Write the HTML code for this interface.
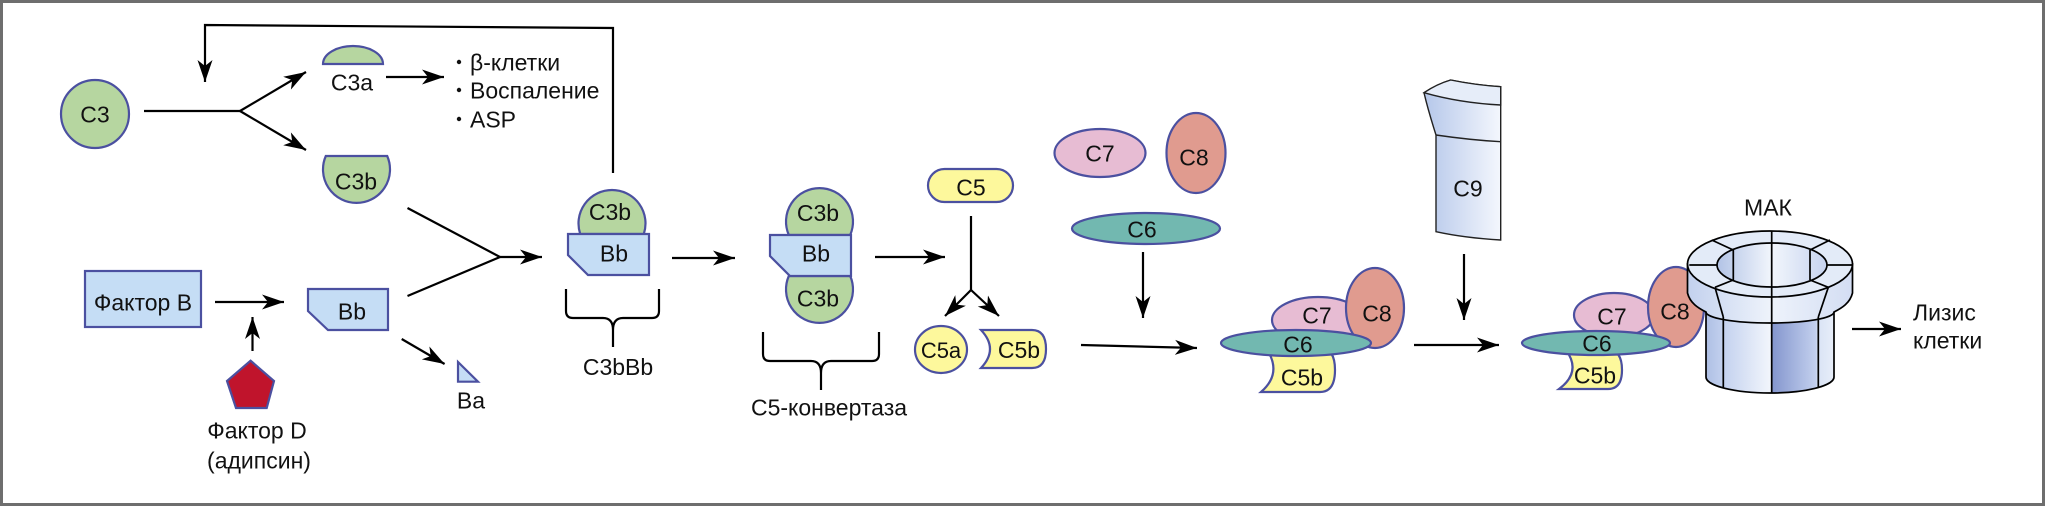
<!DOCTYPE html>
<html>
<head>
<meta charset="utf-8">
<style>
  html,body{margin:0;padding:0;background:#fff;}
  svg{display:block;}
  text{font-family:"Liberation Sans","DejaVu Sans",Arial,sans-serif;font-size:23px;fill:#111;}
  .c{text-anchor:middle;}
  .p{stroke:#4b50a0;stroke-width:2.2;}
  .ln{stroke:#000;stroke-width:2.2;fill:none;}
  .bk{stroke:#000;stroke-width:1.7;}
</style>
</head>
<body>
<svg width="2045" height="506" viewBox="0 0 2045 506" xmlns="http://www.w3.org/2000/svg">
<defs>
  <marker id="ah" markerUnits="userSpaceOnUse" markerWidth="26" markerHeight="20" refX="22" refY="9" orient="auto">
    <path d="M0,1.5 L22,9 L0,16.5 L6,9 Z" fill="#000"/>
  </marker>
  <linearGradient id="c9g" x1="0" x2="1" y1="0" y2="0">
    <stop offset="0" stop-color="#b5c7ea"/>
    <stop offset="1" stop-color="#f4f7fd"/>
  </linearGradient>
  <linearGradient id="cyl" x1="1706" x2="1834" y1="0" y2="0" gradientUnits="userSpaceOnUse">
    <stop offset="0" stop-color="#aebfe4"/>
    <stop offset="0.14" stop-color="#c4d2ef"/>
    <stop offset="0.51" stop-color="#f3f6fc"/>
    <stop offset="0.51" stop-color="#8395cd"/>
    <stop offset="0.86" stop-color="#c3d0ee"/>
    <stop offset="0.87" stop-color="#d9e3f5"/>
    <stop offset="1" stop-color="#e8eef9"/>
  </linearGradient>
  <linearGradient id="ring" x1="1688" x2="1853" y1="0" y2="0" gradientUnits="userSpaceOnUse">
    <stop offset="0" stop-color="#c3d1ee"/>
    <stop offset="0.5" stop-color="#eef3fb"/>
    <stop offset="1" stop-color="#d3ddf3"/>
  </linearGradient>
  <linearGradient id="hole" x1="1717" x2="1827" y1="0" y2="0" gradientUnits="userSpaceOnUse">
    <stop offset="0" stop-color="#b2c3e6"/>
    <stop offset="0.5" stop-color="#f2f6fc"/>
    <stop offset="1" stop-color="#c6d3ef"/>
  </linearGradient>
</defs>

<!-- frame -->
<rect x="1.5" y="1.5" width="2042" height="503" fill="#fff" stroke="#6e6e6e" stroke-width="3"/>

<!-- feedback loop -->
<polyline class="ln" points="613,173 613,28 205,25 205,82" marker-end="url(#ah)"/>

<!-- C3 -->
<circle class="p" cx="95" cy="114" r="34" fill="#b6d6a0"/>
<text class="c" x="95" y="122.5">C3</text>
<line class="ln" x1="144" y1="111" x2="240" y2="111"/>
<line class="ln" x1="240" y1="111" x2="306" y2="72" marker-end="url(#ah)"/>
<line class="ln" x1="240" y1="111" x2="306" y2="150" marker-end="url(#ah)"/>

<!-- C3a -->
<path class="p" d="M323,64 A30,18 0 0 1 383,64 Z" fill="#b6d6a0"/>
<text class="c" x="352" y="90.5">C3a</text>
<line class="ln" x1="386" y1="77" x2="444" y2="77" marker-end="url(#ah)"/>

<!-- list -->
<circle cx="459" cy="62" r="2.2" fill="#111"/>
<circle cx="459" cy="90" r="2.2" fill="#111"/>
<circle cx="459" cy="119" r="2.2" fill="#111"/>
<text x="470" y="70.5">β-клетки</text>
<text x="470" y="98.5">Воспаление</text>
<text x="470" y="127.5">ASP</text>

<!-- C3b -->
<path class="p" d="M325.8,156 L387.2,156 A33.5,33.5 0 1 1 325.8,156 Z" fill="#b6d6a0"/>
<text class="c" x="356" y="189.5">C3b</text>

<!-- converging -->
<polyline class="ln" points="407.5,208 500,257 407.5,296"/>
<line class="ln" x1="500" y1="257" x2="542" y2="257" marker-end="url(#ah)"/>

<!-- Factor B -->
<rect class="p" x="85" y="271" width="116" height="56" fill="#c5ddf5"/>
<text class="c" x="143" y="310.5">Фактор B</text>
<line class="ln" x1="215" y1="302" x2="284" y2="302" marker-end="url(#ah)"/>
<line class="ln" x1="252.5" y1="351" x2="252.5" y2="317" marker-end="url(#ah)"/>

<!-- Factor D -->
<polygon class="p" points="250.6,360.7 274,381 266.7,408 236,408 227,381" fill="#c0142c"/>
<text class="c" x="257" y="438.5">Фактор D</text>
<text class="c" x="259" y="468.5">(адипсин)</text>

<!-- Bb -->
<path class="p" d="M308,289 L388,289 L388,330 L328,330 L308,311 Z" fill="#c5ddf5"/>
<text class="c" x="352" y="319.5">Bb</text>
<line class="ln" x1="401.7" y1="339" x2="444.6" y2="364" marker-end="url(#ah)"/>
<polygon class="p" points="458,362 458,381.7 478,381.7" fill="#c5ddf5" stroke-width="1.8"/>
<text class="c" x="471" y="408.5">Ba</text>

<!-- C3bBb -->
<path class="p" d="M580.2,234 A33.5,33.5 0 1 1 643.8,234 Z" fill="#b6d6a0"/>
<path class="p" d="M568,234 L649,234 L649,275 L588,275 L568,255 Z" fill="#c5ddf5"/>
<text class="c" x="610" y="220">C3b</text>
<text class="c" x="614" y="261.5">Bb</text>
<path class="ln" d="M566,289 L566,311 Q566,318 573,318 L603,318 Q613,318 613,330 L613,347 M613,330 Q613,318 623,318 L652,318 Q659,318 659,311 L659,289"/>
<text class="c" x="618" y="375">C3bBb</text>

<line class="ln" x1="672" y1="258" x2="735" y2="258" marker-end="url(#ah)"/>

<!-- C5 convertase -->
<path class="p" d="M788.8,235 A33.5,33.5 0 1 1 850.2,235 Z" fill="#b6d6a0"/>
<path class="p" d="M788.8,276 L850.2,276 A33.5,33.5 0 1 1 788.8,276 Z" fill="#b6d6a0"/>
<path class="p" d="M770,235 L851,235 L851,276 L790,276 L770,256 Z" fill="#c5ddf5"/>
<text class="c" x="818" y="221">C3b</text>
<text class="c" x="816" y="261.5">Bb</text>
<text class="c" x="818" y="306.5">C3b</text>
<path class="ln" d="M763,332 L763,354 Q763,361 770,361 L811,361 Q821,361 821,373 L821,390 M821,373 Q821,361 831,361 L872,361 Q879,361 879,354 L879,332"/>
<text class="c" x="829" y="415.5">C5-конвертаза</text>

<line class="ln" x1="875" y1="257" x2="945" y2="257" marker-end="url(#ah)"/>

<!-- C5 -->
<rect class="p" x="928" y="169" width="85" height="33" rx="16.5" fill="#fdf89c"/>
<text class="c" x="971" y="195.5">C5</text>
<line class="ln" x1="971" y1="216" x2="971" y2="290"/>
<line class="ln" x1="971" y1="290" x2="945" y2="316" marker-end="url(#ah)"/>
<line class="ln" x1="971" y1="290" x2="999" y2="316" marker-end="url(#ah)"/>
<ellipse class="p" cx="941" cy="349.5" rx="26" ry="23.5" fill="#fdf89c"/>
<text class="c" x="941" y="358" style="font-size:22px">C5a</text>
<path class="p" d="M981,330 L1032,330 Q1046,330 1046,349 Q1046,368 1032,368 L981,368 Q999,349 981,330 Z" fill="#fdf89c"/>
<text class="c" x="1019" y="358">C5b</text>

<!-- C7 C8 C6 free -->
<ellipse class="p" cx="1100" cy="153" rx="45.5" ry="24" fill="#e7bcd3"/>
<text class="c" x="1100" y="161.5">C7</text>
<ellipse class="p" cx="1196" cy="153" rx="29.5" ry="40" fill="#e09b8f"/>
<text class="c" x="1194" y="165.5">C8</text>
<ellipse class="p" cx="1146" cy="228.5" rx="74" ry="15.5" fill="#72b8b0"/>
<text class="c" x="1142" y="237.5">C6</text>
<line class="ln" x1="1143" y1="252" x2="1143" y2="318" marker-end="url(#ah)"/>
<line class="ln" x1="1081" y1="345" x2="1197" y2="348" marker-end="url(#ah)"/>

<!-- complex 1 -->
<path class="p" d="M1266,348 L1320,348 Q1335,348 1335,370 Q1335,392 1320,392 L1261,392 Q1283,373 1266,348 Z" fill="#fdf89c"/>
<ellipse class="p" cx="1318" cy="320" rx="46" ry="23" fill="#e7bcd3"/>
<ellipse class="p" cx="1375" cy="308" rx="29" ry="40" fill="#e09b8f"/>
<ellipse class="p" cx="1296" cy="343" rx="75" ry="13" fill="#72b8b0"/>
<text class="c" x="1317" y="323.5">C7</text>
<text class="c" x="1377" y="321.5">C8</text>
<text class="c" x="1298" y="352.5">C6</text>
<text class="c" x="1302" y="385.5">C5b</text>

<!-- C9 -->
<path d="M1424,92.7 Q1437,84 1450.7,80 Q1475,85 1500.7,86.7 L1500.7,240 Q1465,238 1436,231.7 L1436,135 Q1428,110 1424,92.7 Z" fill="url(#c9g)" stroke="#222" stroke-width="1.4"/>
<path d="M1424,92.7 Q1437,84 1450.7,80 Q1475,85 1500.7,86.7 L1500.7,105 Q1460,103 1424,92.7 Z" fill="#e6edf9" stroke="#222" stroke-width="1.4"/>
<path d="M1436,135 Q1470,140 1500.7,141.7" fill="none" stroke="#222" stroke-width="1.4"/>
<text class="c" x="1468" y="196.5">C9</text>
<line class="ln" x1="1464" y1="254" x2="1464" y2="320" marker-end="url(#ah)"/>
<line class="ln" x1="1414" y1="345" x2="1499" y2="345" marker-end="url(#ah)"/>

<!-- complex 2 -->
<path class="p" d="M1566,350 L1608,350 Q1622,350 1622,370 Q1622,389 1608,389 L1559,389 Q1582,372 1566,350 Z" fill="#fdf89c"/>
<ellipse class="p" cx="1614" cy="315" rx="40" ry="22" fill="#e7bcd3"/>
<ellipse class="p" cx="1676" cy="307" rx="28" ry="40" fill="#e09b8f"/>
<ellipse class="p" cx="1596" cy="343" rx="74" ry="12" fill="#72b8b0"/>
<text class="c" x="1612" y="324.5">C7</text>
<text class="c" x="1675" y="319.5">C8</text>
<text class="c" x="1597" y="351.5">C6</text>
<text class="c" x="1595" y="383.5">C5b</text>

<!-- MAK -->
<path class="bk" d="M1706,300 L1706,377 A64,16 0 0 0 1834,377 L1834,300 Z" fill="url(#cyl)"/>
<path class="bk" d="M1687.5,264 L1687.5,293 C1690,303 1698,308 1706,312 A64,11 0 0 0 1834,312 C1842,308 1850,303 1852.5,293 L1852.5,264 Z" fill="url(#ring)"/>
<ellipse class="bk" cx="1770" cy="264" rx="82.5" ry="33" fill="#e3ebf8"/>
<ellipse class="bk" cx="1772" cy="265" rx="55" ry="22" fill="url(#hole)"/>
<g class="bk" fill="none">
  <line x1="1771.7" y1="231" x2="1771.7" y2="393"/>
  <line x1="1711.7" y1="240" x2="1733.3" y2="250"/>
  <line x1="1689.3" y1="265" x2="1717.3" y2="265"/>
  <line x1="1715" y1="287.3" x2="1733.3" y2="280"/>
  <line x1="1810" y1="250" x2="1830" y2="240"/>
  <line x1="1826.7" y1="265" x2="1852.7" y2="265"/>
  <line x1="1810" y1="280" x2="1828.3" y2="287.3"/>
  <line x1="1733.3" y1="250" x2="1733.3" y2="280"/>
  <line x1="1810" y1="250" x2="1810" y2="280"/>
  <line x1="1715" y1="287.3" x2="1723.3" y2="317"/>
  <line x1="1828.3" y1="287.3" x2="1818.3" y2="317"/>
  <line x1="1723.3" y1="317" x2="1723.3" y2="388"/>
  <line x1="1818.3" y1="317" x2="1818.3" y2="388"/>
</g>
<text class="c" x="1768" y="215.5">МАК</text>

<line class="ln" x1="1852" y1="329" x2="1901" y2="329" marker-end="url(#ah)"/>
<text x="1913" y="320.5">Лизис</text>
<text x="1913" y="348.5">клетки</text>
</svg>
</body>
</html>
